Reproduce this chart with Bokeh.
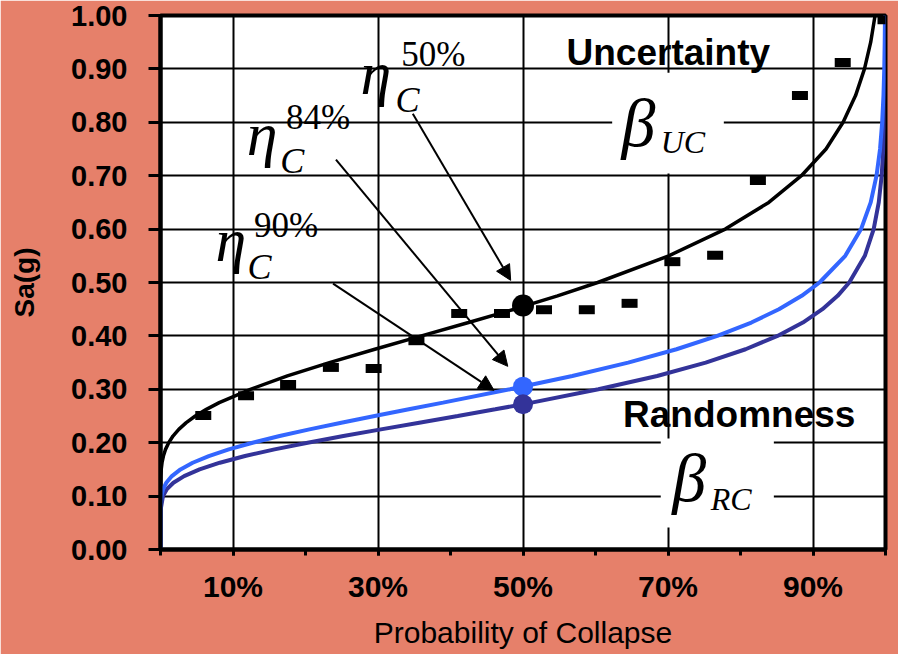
from bokeh.plotting import figure
from bokeh.models import (FixedTicker, NumeralTickFormatter, Label, Arrow,
                          NormalHead, BoxAnnotation)
from bokeh.embed import file_html
from bokeh.resources import INLINE

# ---------------- data ----------------
# Sa levels (g) at which the three fragility curves were read
sa_levels = [0.0, 0.05, 0.075, 0.10, 0.1125, 0.125, 0.1375, 0.15, 0.1625, 0.175,
             0.1875, 0.20, 0.2125, 0.225, 0.2375, 0.25, 0.2625, 0.275, 0.30,
             0.325, 0.35, 0.375, 0.40, 0.425, 0.45, 0.475, 0.50, 0.55, 0.60,
             0.65, 0.70, 0.75, 0.80, 0.85, 0.90, 0.95, 1.00]
# probability of collapse (%) of each curve at those levels
p_uncertainty = [0.0, 0.0, 0.0, 0.001, 0.005, 0.017, 0.044, 0.10, 0.21, 0.40,
                 0.69, 1.13, 1.72, 2.52, 3.55, 4.80, 6.33, 8.10, 12.4,
                 17.5, 23.3, 29.56, 36.0, 42.49, 48.8, 54.76, 60.3, 70.1, 77.9,
                 83.9, 88.4, 91.8, 94.15, 95.87, 97.1, 97.96, 98.56]
p_modeling = [0.0, 0.0, 0.0075, 0.13, 0.35, 0.80, 1.57, 2.76, 4.44, 6.66,
              9.42, 12.7, 16.43, 20.54, 24.94, 29.54, 34.25, 38.97, 48.2,
              56.8, 64.5, 71.17, 76.8, 81.5, 85.3, 88.44, 90.9, 94.45, 96.63,
              97.96, 98.76, 99.25, 99.54, 99.72, 99.83, 99.89, 99.93]
p_randomness = [0.0, 0.0, 0.025, 0.34, 0.85, 1.78, 3.26, 5.39, 8.19, 11.66,
                15.73, 20.3, 25.23, 30.4, 35.69, 41.0, 46.17, 51.2, 60.4,
                68.5, 75.2, 80.7, 85.1, 88.6, 91.3, 93.4, 95.0, 97.15, 98.37,
                99.07, 99.47, 99.69, 99.82, 99.90, 99.94, 99.96, 99.98]

# observed collapse intensities (black rectangles)
obs_p = [5.9, 11.8, 17.6, 23.5, 29.4, 35.3, 41.2, 47.1, 52.9, 58.8, 64.7,
         70.6, 76.5, 82.4, 88.2, 94.1, 100.0]
obs_sa = [0.251, 0.288, 0.309, 0.341, 0.339, 0.391, 0.442, 0.442, 0.449,
          0.449, 0.461, 0.539, 0.551, 0.691, 0.850, 0.912, 0.992]

# median points
median_p = [50, 50, 50]
median_sa = [0.457, 0.305, 0.272]
median_colors = ["#000000", "#3366FF", "#333399"]

x_label_ticks = [10, 30, 50, 70, 90]
x_tick_labels = ["10%", "30%", "50%", "70%", "90%"]
x_minor_ticks = [0, 10, 20, 30, 40, 50, 60, 70, 80, 90, 100]
y_ticks = [0.0, 0.1, 0.2, 0.3, 0.4, 0.5, 0.6, 0.7, 0.8, 0.9, 1.0]

# ---------------- styling ----------------
BG = "#E6806A"
SANS = "Liberation Sans"
SERIF = "Liberation Serif"
FRAME_H = 534

p = figure(frame_width=725, frame_height=FRAME_H, x_range=(0, 100), y_range=(0, 1),
           output_backend="svg", toolbar_location=None,
           min_border_left=160, min_border_right=13, min_border_top=15,
           min_border_bottom=105, background_fill_color="white",
           border_fill_color=BG)
p.outline_line_color = "black"
p.outline_line_width = 4

# x axis
xa = p.xaxis[0]
xa.ticker = FixedTicker(ticks=x_label_ticks, minor_ticks=x_minor_ticks)
xa.major_label_overrides = dict(zip(x_label_ticks, x_tick_labels))
xa.axis_line_width = 4
xa.major_tick_line_width = 3
xa.minor_tick_line_width = 3
xa.major_tick_in = 0
xa.major_tick_out = 6
xa.minor_tick_in = 0
xa.minor_tick_out = 6
xa.major_label_text_font = SANS
xa.major_label_text_font_style = "bold"
xa.major_label_text_font_size = "30px"
xa.major_label_text_color = "black"
xa.major_label_standoff = 14
xa.axis_label = "Probability of Collapse"
xa.axis_label_text_font = SANS
xa.axis_label_text_font_style = "normal"
xa.axis_label_text_font_size = "30px"
xa.axis_label_text_color = "black"
xa.axis_label_standoff = 10

# y axis
ya = p.yaxis[0]
ya.ticker = FixedTicker(ticks=y_ticks)
ya.formatter = NumeralTickFormatter(format="0.00")
ya.axis_line_width = 4
ya.major_tick_line_width = 3
ya.major_tick_in = 0
ya.major_tick_out = 12
ya.minor_tick_line_color = None
ya.major_label_text_font = SANS
ya.major_label_text_font_style = "bold"
ya.major_label_text_font_size = "29px"
ya.major_label_text_color = "black"
ya.major_label_standoff = 21
ya.axis_label = "Sa(g)"
ya.axis_label_text_font = SANS
ya.axis_label_text_font_style = "bold"
ya.axis_label_text_font_size = "28px"
ya.axis_label_text_color = "black"
ya.axis_label_standoff = 28

for g in (p.xgrid[0], p.ygrid[0]):
    g.grid_line_color = "black"
    g.grid_line_width = 2
p.ygrid[0].ticker = FixedTicker(ticks=y_ticks)

# ---------------- glyphs ----------------
p.line(p_uncertainty, sa_levels, line_color="black", line_width=3.5)
p.line(p_randomness, sa_levels, line_color="#333399", line_width=4)
p.line(p_modeling, sa_levels, line_color="#3366FF", line_width=4)
p.rect(obs_p, obs_sa, width=16, height=9, width_units="screen",
       height_units="screen", fill_color="black", line_color=None)
p.scatter(median_p, median_sa, size=[22, 20, 20], fill_color=median_colors,
          line_color=None)

# ---------------- annotations ----------------
# pale strip along the left edge of the slide
p.add_layout(BoxAnnotation(left=0, right=8, top=0, bottom=654,
                           left_units="canvas", right_units="canvas",
                           top_units="canvas", bottom_units="canvas",
                           fill_color="#FFFFCC", fill_alpha=1, line_color=None,
                           level="overlay"))
p.add_layout(BoxAnnotation(left=62.3, right=77.7, bottom=0.704, top=0.893,
                           fill_color="white", fill_alpha=1, line_color=None))
p.add_layout(BoxAnnotation(left=69.0, right=84.6, bottom=0.041, top=0.208,
                           fill_color="white", fill_alpha=1, line_color=None))


def lab(x, y, text, font, size, style="normal"):
    # y is the wanted baseline; lift to compensate the renderer's baseline drop
    lift = 0.36 * size / FRAME_H
    p.add_layout(Label(x=x, y=y + lift, text=text, text_font=font,
                       text_font_size=f"{size}px", text_font_style=style,
                       text_color="black", text_align="left",
                       text_baseline="alphabetic"))


lab(56.0, 0.906, "Uncertainty", SANS, 37, "bold")
lab(63.8, 0.228, "Randomness", SANS, 37, "bold")

lab(63.6, 0.752, "β", SERIF, 68, "italic")
lab(69.0, 0.742, "UC", SERIF, 32, "italic")
lab(70.6, 0.088, "β", SERIF, 68, "italic")
lab(75.9, 0.073, "RC", SERIF, 32, "italic")

# eta labels
lab(27.6, 0.850, "η", SERIF, 62, "italic")
lab(32.4, 0.818, "C", SERIF, 36, "italic")
lab(33.2, 0.903, "50%", SERIF, 35)
lab(11.9, 0.736, "η", SERIF, 62, "italic")
lab(16.5, 0.704, "C", SERIF, 36, "italic")
lab(17.3, 0.785, "84%", SERIF, 35)
lab(7.6, 0.537, "η", SERIF, 62, "italic")
lab(12.0, 0.504, "C", SERIF, 36, "italic")
lab(12.9, 0.584, "90%", SERIF, 35)

for xs, ys, xe, ye in [(34.8, 0.816, 48.3, 0.504),
                       (24.2, 0.730, 47.9, 0.343),
                       (23.8, 0.498, 46.0, 0.298)]:
    p.add_layout(Arrow(end=NormalHead(size=15, fill_color="black",
                                      line_color="black"),
                       x_start=xs, y_start=ys, x_end=xe, y_end=ye,
                       line_color="black", line_width=2))

open("out.html", "w").write(file_html(p, INLINE))
